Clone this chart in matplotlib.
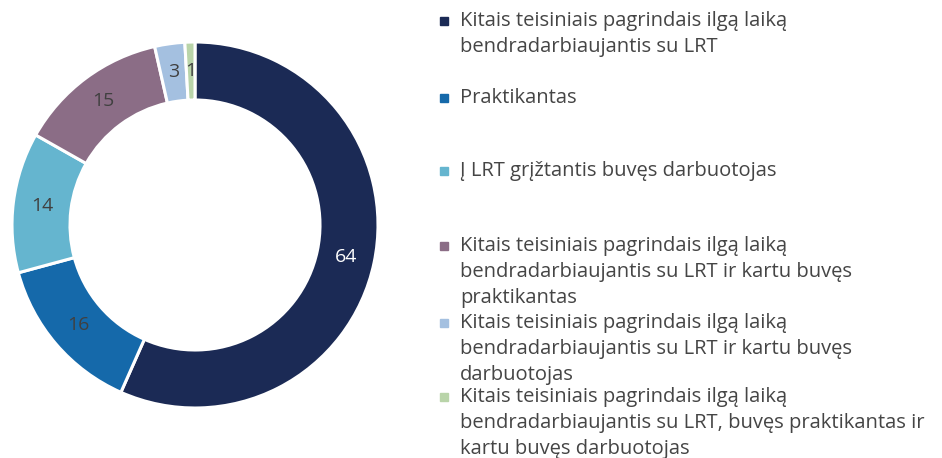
import numpy as np
import matplotlib.pyplot as plt
from matplotlib.lines import Line2D

plt.rcParams['font.family'] = ['Open Sans', 'DejaVu Sans']

labels = [
    "Kitais teisiniais pagrindais ilgą laiką\nbendradarbiaujantis su LRT",
    "Praktikantas",
    "Į LRT grįžtantis buvęs darbuotojas",
    "Kitais teisiniais pagrindais ilgą laiką\nbendradarbiaujantis su LRT ir kartu buvęs\npraktikantas",
    "Kitais teisiniais pagrindais ilgą laiką\nbendradarbiaujantis su LRT ir kartu buvęs\ndarbuotojas",
    "Kitais teisiniais pagrindais ilgą laiką\nbendradarbiaujantis su LRT, buvęs praktikantas ir\nkartu buvęs darbuotojas",
]
values = [64, 16, 14, 15, 3, 1]
colors = ['#1b2a55', '#1569aa', '#65b5cf', '#8b6d86', '#a4c0e0', '#b9d4a9']
label_colors = ['white', '#404040', '#404040', '#404040', '#404040', '#404040']

fig = plt.figure(figsize=(9.42, 4.58), dpi=100)
# donut centred at (195, 225) px, outer radius ~183 px
ax = fig.add_axes([(195 - 190) / 942, (458 - 225 - 190) / 458, 380 / 942, 380 / 458])
R = 183 / 190
w = 58 / 190
wedges, _ = ax.pie(values, colors=colors, startangle=90, counterclock=False,
                   radius=R, wedgeprops=dict(width=w, edgecolor='white', linewidth=2.2))
ax.set_xlim(-1, 1)
ax.set_ylim(-1, 1)
ax.set_aspect('equal')

total = sum(values)
start = 90.0
rmid = R - w / 2
for v, c in zip(values, label_colors):
    ang = np.deg2rad(start - 360.0 * v / total / 2)
    ax.text(rmid * np.cos(ang), rmid * np.sin(ang), str(v), ha='center', va='center',
            fontsize=14, color=c)
    start -= 360.0 * v / total

# legend, one slot per entry (pixel centre of first line)
centres = [20, 97, 170, 245, 322, 396]
for lab, col, cy in zip(labels, colors, centres):
    fig.text(460 / 942, 1 - (cy - 9) / 458, lab, ha='left', va='top', fontsize=14.5,
             color='#454545', linespacing=1.4)
    fig.add_artist(Line2D([444 / 942], [1 - (cy + 1) / 458], marker='s', markersize=5.5,
                          color=col, transform=fig.transFigure))

fig.savefig('out.png', dpi=100)
